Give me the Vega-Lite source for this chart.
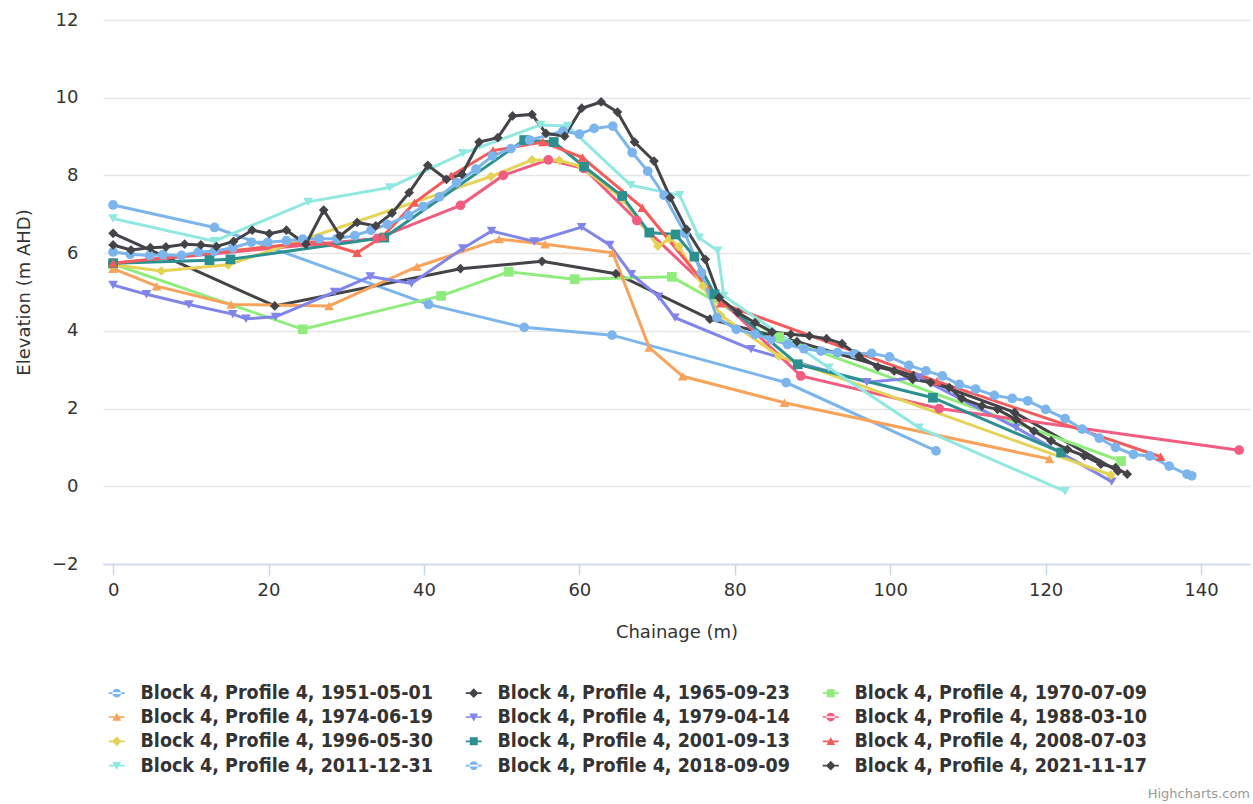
{
  "$schema": "https://vega.github.io/schema/vega-lite/v6.json",
  "width": 1147,
  "height": 544,
  "autosize": {"type": "none"},
  "padding": {"left": 103, "top": 20, "right": 3, "bottom": 240},
  "background": "white",
  "title": {"text": "Highcharts.com", "orient": "bottom", "anchor": "end", "fontSize": 13, "font": "DejaVu Sans", "fontWeight": "normal", "color": "#999999", "offset": 12},
  "config": {
    "view": {"stroke": null},
    "font": "DejaVu Sans"
  },
  "data": {"values": [
    {"s": "Block 4, Profile 4, 1951-05-01", "x": 0, "y": 7.24},
    {"s": "Block 4, Profile 4, 1951-05-01", "x": 13.05, "y": 6.66},
    {"s": "Block 4, Profile 4, 1951-05-01", "x": 40.6, "y": 4.68},
    {"s": "Block 4, Profile 4, 1951-05-01", "x": 52.9, "y": 4.09},
    {"s": "Block 4, Profile 4, 1951-05-01", "x": 64.2, "y": 3.89},
    {"s": "Block 4, Profile 4, 1951-05-01", "x": 86.6, "y": 2.67},
    {"s": "Block 4, Profile 4, 1951-05-01", "x": 105.9, "y": 0.91},

    {"s": "Block 4, Profile 4, 1965-09-23", "x": 0, "y": 6.51},
    {"s": "Block 4, Profile 4, 1965-09-23", "x": 20.8, "y": 4.64},
    {"s": "Block 4, Profile 4, 1965-09-23", "x": 44.7, "y": 5.6},
    {"s": "Block 4, Profile 4, 1965-09-23", "x": 55.2, "y": 5.79},
    {"s": "Block 4, Profile 4, 1965-09-23", "x": 64.7, "y": 5.47},
    {"s": "Block 4, Profile 4, 1965-09-23", "x": 76.8, "y": 4.3},
    {"s": "Block 4, Profile 4, 1965-09-23", "x": 88, "y": 3.72},
    {"s": "Block 4, Profile 4, 1965-09-23", "x": 103, "y": 2.85},
    {"s": "Block 4, Profile 4, 1965-09-23", "x": 116, "y": 1.9},
    {"s": "Block 4, Profile 4, 1965-09-23", "x": 129.3, "y": 0.39},

    {"s": "Block 4, Profile 4, 1970-07-09", "x": 0, "y": 5.72},
    {"s": "Block 4, Profile 4, 1970-07-09", "x": 24.4, "y": 4.04},
    {"s": "Block 4, Profile 4, 1970-07-09", "x": 42.2, "y": 4.9},
    {"s": "Block 4, Profile 4, 1970-07-09", "x": 50.9, "y": 5.52},
    {"s": "Block 4, Profile 4, 1970-07-09", "x": 59.4, "y": 5.33},
    {"s": "Block 4, Profile 4, 1970-07-09", "x": 71.9, "y": 5.39},
    {"s": "Block 4, Profile 4, 1970-07-09", "x": 85.7, "y": 3.84},
    {"s": "Block 4, Profile 4, 1970-07-09", "x": 129.7, "y": 0.65},

    {"s": "Block 4, Profile 4, 1974-06-19", "x": 0, "y": 5.6},
    {"s": "Block 4, Profile 4, 1974-06-19", "x": 5.6, "y": 5.15},
    {"s": "Block 4, Profile 4, 1974-06-19", "x": 15.2, "y": 4.68},
    {"s": "Block 4, Profile 4, 1974-06-19", "x": 27.8, "y": 4.64},
    {"s": "Block 4, Profile 4, 1974-06-19", "x": 39.1, "y": 5.65},
    {"s": "Block 4, Profile 4, 1974-06-19", "x": 49.7, "y": 6.36},
    {"s": "Block 4, Profile 4, 1974-06-19", "x": 55.6, "y": 6.23},
    {"s": "Block 4, Profile 4, 1974-06-19", "x": 64.3, "y": 6.01},
    {"s": "Block 4, Profile 4, 1974-06-19", "x": 69.0, "y": 3.57},
    {"s": "Block 4, Profile 4, 1974-06-19", "x": 73.3, "y": 2.83},
    {"s": "Block 4, Profile 4, 1974-06-19", "x": 86.4, "y": 2.15},
    {"s": "Block 4, Profile 4, 1974-06-19", "x": 120.5, "y": 0.7},

    {"s": "Block 4, Profile 4, 1979-04-14", "x": 0, "y": 5.18},
    {"s": "Block 4, Profile 4, 1979-04-14", "x": 4.3, "y": 4.94},
    {"s": "Block 4, Profile 4, 1979-04-14", "x": 9.75, "y": 4.68},
    {"s": "Block 4, Profile 4, 1979-04-14", "x": 15.4, "y": 4.43},
    {"s": "Block 4, Profile 4, 1979-04-14", "x": 17.1, "y": 4.31},
    {"s": "Block 4, Profile 4, 1979-04-14", "x": 20.9, "y": 4.36},
    {"s": "Block 4, Profile 4, 1979-04-14", "x": 28.5, "y": 5.0},
    {"s": "Block 4, Profile 4, 1979-04-14", "x": 33.1, "y": 5.4},
    {"s": "Block 4, Profile 4, 1979-04-14", "x": 38.4, "y": 5.22},
    {"s": "Block 4, Profile 4, 1979-04-14", "x": 45.0, "y": 6.12},
    {"s": "Block 4, Profile 4, 1979-04-14", "x": 48.7, "y": 6.57},
    {"s": "Block 4, Profile 4, 1979-04-14", "x": 54.2, "y": 6.3},
    {"s": "Block 4, Profile 4, 1979-04-14", "x": 60.3, "y": 6.67},
    {"s": "Block 4, Profile 4, 1979-04-14", "x": 63.9, "y": 6.21},
    {"s": "Block 4, Profile 4, 1979-04-14", "x": 66.7, "y": 5.46},
    {"s": "Block 4, Profile 4, 1979-04-14", "x": 70.2, "y": 4.88},
    {"s": "Block 4, Profile 4, 1979-04-14", "x": 72.3, "y": 4.34},
    {"s": "Block 4, Profile 4, 1979-04-14", "x": 82.1, "y": 3.53},
    {"s": "Block 4, Profile 4, 1979-04-14", "x": 97, "y": 2.68},
    {"s": "Block 4, Profile 4, 1979-04-14", "x": 103.7, "y": 2.8},
    {"s": "Block 4, Profile 4, 1979-04-14", "x": 116.2, "y": 1.51},
    {"s": "Block 4, Profile 4, 1979-04-14", "x": 128.5, "y": 0.12},

    {"s": "Block 4, Profile 4, 1988-03-10", "x": 0, "y": 5.74},
    {"s": "Block 4, Profile 4, 1988-03-10", "x": 34, "y": 6.38},
    {"s": "Block 4, Profile 4, 1988-03-10", "x": 44.7, "y": 7.23},
    {"s": "Block 4, Profile 4, 1988-03-10", "x": 50.2, "y": 8.0},
    {"s": "Block 4, Profile 4, 1988-03-10", "x": 56.0, "y": 8.4},
    {"s": "Block 4, Profile 4, 1988-03-10", "x": 60.6, "y": 8.18},
    {"s": "Block 4, Profile 4, 1988-03-10", "x": 67.4, "y": 6.84},
    {"s": "Block 4, Profile 4, 1988-03-10", "x": 88.5, "y": 2.84},
    {"s": "Block 4, Profile 4, 1988-03-10", "x": 106.3, "y": 2.0},
    {"s": "Block 4, Profile 4, 1988-03-10", "x": 144.9, "y": 0.93},

    {"s": "Block 4, Profile 4, 1996-05-30", "x": 0, "y": 5.7},
    {"s": "Block 4, Profile 4, 1996-05-30", "x": 6.2, "y": 5.54},
    {"s": "Block 4, Profile 4, 1996-05-30", "x": 14.8, "y": 5.7},
    {"s": "Block 4, Profile 4, 1996-05-30", "x": 48.6, "y": 7.97},
    {"s": "Block 4, Profile 4, 1996-05-30", "x": 53.9, "y": 8.4},
    {"s": "Block 4, Profile 4, 1996-05-30", "x": 57.4, "y": 8.39},
    {"s": "Block 4, Profile 4, 1996-05-30", "x": 60.2, "y": 8.23},
    {"s": "Block 4, Profile 4, 1996-05-30", "x": 65.6, "y": 7.39},
    {"s": "Block 4, Profile 4, 1996-05-30", "x": 70.1, "y": 6.18},
    {"s": "Block 4, Profile 4, 1996-05-30", "x": 71.6, "y": 6.37},
    {"s": "Block 4, Profile 4, 1996-05-30", "x": 72.8, "y": 6.17},
    {"s": "Block 4, Profile 4, 1996-05-30", "x": 75.9, "y": 5.15},
    {"s": "Block 4, Profile 4, 1996-05-30", "x": 78.2, "y": 4.4},
    {"s": "Block 4, Profile 4, 1996-05-30", "x": 85.7, "y": 3.35},
    {"s": "Block 4, Profile 4, 1996-05-30", "x": 128.4, "y": 0.29},

    {"s": "Block 4, Profile 4, 2001-09-13", "x": 0, "y": 5.74},
    {"s": "Block 4, Profile 4, 2001-09-13", "x": 12.4, "y": 5.82},
    {"s": "Block 4, Profile 4, 2001-09-13", "x": 15.1, "y": 5.84},
    {"s": "Block 4, Profile 4, 2001-09-13", "x": 34.9, "y": 6.4},
    {"s": "Block 4, Profile 4, 2001-09-13", "x": 52.9, "y": 8.91},
    {"s": "Block 4, Profile 4, 2001-09-13", "x": 56.7, "y": 8.86},
    {"s": "Block 4, Profile 4, 2001-09-13", "x": 60.6, "y": 8.23},
    {"s": "Block 4, Profile 4, 2001-09-13", "x": 65.5, "y": 7.47},
    {"s": "Block 4, Profile 4, 2001-09-13", "x": 69.0, "y": 6.53},
    {"s": "Block 4, Profile 4, 2001-09-13", "x": 72.4, "y": 6.48},
    {"s": "Block 4, Profile 4, 2001-09-13", "x": 74.8, "y": 5.91},
    {"s": "Block 4, Profile 4, 2001-09-13", "x": 77.4, "y": 4.94},
    {"s": "Block 4, Profile 4, 2001-09-13", "x": 88.1, "y": 3.14},
    {"s": "Block 4, Profile 4, 2001-09-13", "x": 105.5, "y": 2.28},
    {"s": "Block 4, Profile 4, 2001-09-13", "x": 122.0, "y": 0.87},

    {"s": "Block 4, Profile 4, 2008-07-03", "x": 0, "y": 5.74},
    {"s": "Block 4, Profile 4, 2008-07-03", "x": 26.5, "y": 6.3},
    {"s": "Block 4, Profile 4, 2008-07-03", "x": 31.4, "y": 6.01},
    {"s": "Block 4, Profile 4, 2008-07-03", "x": 34.7, "y": 6.43},
    {"s": "Block 4, Profile 4, 2008-07-03", "x": 38.8, "y": 7.3},
    {"s": "Block 4, Profile 4, 2008-07-03", "x": 43.5, "y": 7.99},
    {"s": "Block 4, Profile 4, 2008-07-03", "x": 48.9, "y": 8.64},
    {"s": "Block 4, Profile 4, 2008-07-03", "x": 55.3, "y": 8.86},
    {"s": "Block 4, Profile 4, 2008-07-03", "x": 60.4, "y": 8.46},
    {"s": "Block 4, Profile 4, 2008-07-03", "x": 68.1, "y": 7.17},
    {"s": "Block 4, Profile 4, 2008-07-03", "x": 78.2, "y": 4.71},
    {"s": "Block 4, Profile 4, 2008-07-03", "x": 106, "y": 2.7},
    {"s": "Block 4, Profile 4, 2008-07-03", "x": 134.8, "y": 0.76},

    {"s": "Block 4, Profile 4, 2011-12-31", "x": 0, "y": 6.89},
    {"s": "Block 4, Profile 4, 2011-12-31", "x": 13.05, "y": 6.31},
    {"s": "Block 4, Profile 4, 2011-12-31", "x": 25.1, "y": 7.32},
    {"s": "Block 4, Profile 4, 2011-12-31", "x": 35.6, "y": 7.69},
    {"s": "Block 4, Profile 4, 2011-12-31", "x": 45.0, "y": 8.57},
    {"s": "Block 4, Profile 4, 2011-12-31", "x": 55.0, "y": 9.3},
    {"s": "Block 4, Profile 4, 2011-12-31", "x": 58.5, "y": 9.27},
    {"s": "Block 4, Profile 4, 2011-12-31", "x": 66.6, "y": 7.75},
    {"s": "Block 4, Profile 4, 2011-12-31", "x": 72.9, "y": 7.49},
    {"s": "Block 4, Profile 4, 2011-12-31", "x": 75.4, "y": 6.4},
    {"s": "Block 4, Profile 4, 2011-12-31", "x": 77.8, "y": 6.06},
    {"s": "Block 4, Profile 4, 2011-12-31", "x": 78.6, "y": 4.9},
    {"s": "Block 4, Profile 4, 2011-12-31", "x": 92.1, "y": 3.05},
    {"s": "Block 4, Profile 4, 2011-12-31", "x": 103.7, "y": 1.51},
    {"s": "Block 4, Profile 4, 2011-12-31", "x": 122.5, "y": -0.13},

    {"s": "Block 4, Profile 4, 2018-09-09", "x": 0, "y": 6.03},
    {"s": "Block 4, Profile 4, 2018-09-09", "x": 2.2, "y": 5.97},
    {"s": "Block 4, Profile 4, 2018-09-09", "x": 4.7, "y": 5.94},
    {"s": "Block 4, Profile 4, 2018-09-09", "x": 6.4, "y": 5.96},
    {"s": "Block 4, Profile 4, 2018-09-09", "x": 8.8, "y": 5.94},
    {"s": "Block 4, Profile 4, 2018-09-09", "x": 11.0, "y": 6.03},
    {"s": "Block 4, Profile 4, 2018-09-09", "x": 13.05, "y": 6.05},
    {"s": "Block 4, Profile 4, 2018-09-09", "x": 15.4, "y": 6.14},
    {"s": "Block 4, Profile 4, 2018-09-09", "x": 17.8, "y": 6.28},
    {"s": "Block 4, Profile 4, 2018-09-09", "x": 19.9, "y": 6.28},
    {"s": "Block 4, Profile 4, 2018-09-09", "x": 22.3, "y": 6.32},
    {"s": "Block 4, Profile 4, 2018-09-09", "x": 24.4, "y": 6.36},
    {"s": "Block 4, Profile 4, 2018-09-09", "x": 26.5, "y": 6.37},
    {"s": "Block 4, Profile 4, 2018-09-09", "x": 28.8, "y": 6.37},
    {"s": "Block 4, Profile 4, 2018-09-09", "x": 31.1, "y": 6.45},
    {"s": "Block 4, Profile 4, 2018-09-09", "x": 33.2, "y": 6.59},
    {"s": "Block 4, Profile 4, 2018-09-09", "x": 35.3, "y": 6.74},
    {"s": "Block 4, Profile 4, 2018-09-09", "x": 38.0, "y": 6.97},
    {"s": "Block 4, Profile 4, 2018-09-09", "x": 39.9, "y": 7.2},
    {"s": "Block 4, Profile 4, 2018-09-09", "x": 42.0, "y": 7.45},
    {"s": "Block 4, Profile 4, 2018-09-09", "x": 44.2, "y": 7.81},
    {"s": "Block 4, Profile 4, 2018-09-09", "x": 46.7, "y": 8.16},
    {"s": "Block 4, Profile 4, 2018-09-09", "x": 48.8, "y": 8.5},
    {"s": "Block 4, Profile 4, 2018-09-09", "x": 51.2, "y": 8.69},
    {"s": "Block 4, Profile 4, 2018-09-09", "x": 53.6, "y": 8.91},
    {"s": "Block 4, Profile 4, 2018-09-09", "x": 57.9, "y": 9.14},
    {"s": "Block 4, Profile 4, 2018-09-09", "x": 60.0, "y": 9.06},
    {"s": "Block 4, Profile 4, 2018-09-09", "x": 61.9, "y": 9.21},
    {"s": "Block 4, Profile 4, 2018-09-09", "x": 64.3, "y": 9.27},
    {"s": "Block 4, Profile 4, 2018-09-09", "x": 66.8, "y": 8.59},
    {"s": "Block 4, Profile 4, 2018-09-09", "x": 68.8, "y": 8.11},
    {"s": "Block 4, Profile 4, 2018-09-09", "x": 70.9, "y": 7.49},
    {"s": "Block 4, Profile 4, 2018-09-09", "x": 73.6, "y": 6.51},
    {"s": "Block 4, Profile 4, 2018-09-09", "x": 75.7, "y": 5.5},
    {"s": "Block 4, Profile 4, 2018-09-09", "x": 77.7, "y": 4.34},
    {"s": "Block 4, Profile 4, 2018-09-09", "x": 80.2, "y": 4.04},
    {"s": "Block 4, Profile 4, 2018-09-09", "x": 82.6, "y": 3.91},
    {"s": "Block 4, Profile 4, 2018-09-09", "x": 84.7, "y": 3.78},
    {"s": "Block 4, Profile 4, 2018-09-09", "x": 86.8, "y": 3.65},
    {"s": "Block 4, Profile 4, 2018-09-09", "x": 88.9, "y": 3.54},
    {"s": "Block 4, Profile 4, 2018-09-09", "x": 91.1, "y": 3.48},
    {"s": "Block 4, Profile 4, 2018-09-09", "x": 93.2, "y": 3.44},
    {"s": "Block 4, Profile 4, 2018-09-09", "x": 95.4, "y": 3.41},
    {"s": "Block 4, Profile 4, 2018-09-09", "x": 97.6, "y": 3.42},
    {"s": "Block 4, Profile 4, 2018-09-09", "x": 99.9, "y": 3.33},
    {"s": "Block 4, Profile 4, 2018-09-09", "x": 102.4, "y": 3.11},
    {"s": "Block 4, Profile 4, 2018-09-09", "x": 104.6, "y": 2.97},
    {"s": "Block 4, Profile 4, 2018-09-09", "x": 106.7, "y": 2.84},
    {"s": "Block 4, Profile 4, 2018-09-09", "x": 108.9, "y": 2.62},
    {"s": "Block 4, Profile 4, 2018-09-09", "x": 111.0, "y": 2.5},
    {"s": "Block 4, Profile 4, 2018-09-09", "x": 113.4, "y": 2.34},
    {"s": "Block 4, Profile 4, 2018-09-09", "x": 115.7, "y": 2.26},
    {"s": "Block 4, Profile 4, 2018-09-09", "x": 117.7, "y": 2.2},
    {"s": "Block 4, Profile 4, 2018-09-09", "x": 120.0, "y": 1.98},
    {"s": "Block 4, Profile 4, 2018-09-09", "x": 122.5, "y": 1.74},
    {"s": "Block 4, Profile 4, 2018-09-09", "x": 124.7, "y": 1.47},
    {"s": "Block 4, Profile 4, 2018-09-09", "x": 126.9, "y": 1.24},
    {"s": "Block 4, Profile 4, 2018-09-09", "x": 129.0, "y": 1.0},
    {"s": "Block 4, Profile 4, 2018-09-09", "x": 131.3, "y": 0.82},
    {"s": "Block 4, Profile 4, 2018-09-09", "x": 133.4, "y": 0.78},
    {"s": "Block 4, Profile 4, 2018-09-09", "x": 135.9, "y": 0.52},
    {"s": "Block 4, Profile 4, 2018-09-09", "x": 138.2, "y": 0.31},
    {"s": "Block 4, Profile 4, 2018-09-09", "x": 138.8, "y": 0.27},

    {"s": "Block 4, Profile 4, 2021-11-17", "x": 0, "y": 6.21},
    {"s": "Block 4, Profile 4, 2021-11-17", "x": 2.3, "y": 6.08},
    {"s": "Block 4, Profile 4, 2021-11-17", "x": 4.8, "y": 6.14},
    {"s": "Block 4, Profile 4, 2021-11-17", "x": 6.8, "y": 6.16},
    {"s": "Block 4, Profile 4, 2021-11-17", "x": 9.2, "y": 6.23},
    {"s": "Block 4, Profile 4, 2021-11-17", "x": 11.3, "y": 6.21},
    {"s": "Block 4, Profile 4, 2021-11-17", "x": 13.3, "y": 6.17},
    {"s": "Block 4, Profile 4, 2021-11-17", "x": 15.5, "y": 6.3},
    {"s": "Block 4, Profile 4, 2021-11-17", "x": 17.9, "y": 6.59},
    {"s": "Block 4, Profile 4, 2021-11-17", "x": 20.1, "y": 6.5},
    {"s": "Block 4, Profile 4, 2021-11-17", "x": 22.3, "y": 6.59},
    {"s": "Block 4, Profile 4, 2021-11-17", "x": 24.8, "y": 6.23},
    {"s": "Block 4, Profile 4, 2021-11-17", "x": 27.1, "y": 7.11},
    {"s": "Block 4, Profile 4, 2021-11-17", "x": 29.2, "y": 6.44},
    {"s": "Block 4, Profile 4, 2021-11-17", "x": 31.4, "y": 6.79},
    {"s": "Block 4, Profile 4, 2021-11-17", "x": 33.8, "y": 6.7},
    {"s": "Block 4, Profile 4, 2021-11-17", "x": 35.9, "y": 7.03},
    {"s": "Block 4, Profile 4, 2021-11-17", "x": 38.1, "y": 7.56},
    {"s": "Block 4, Profile 4, 2021-11-17", "x": 40.5, "y": 8.26},
    {"s": "Block 4, Profile 4, 2021-11-17", "x": 42.9, "y": 7.9},
    {"s": "Block 4, Profile 4, 2021-11-17", "x": 44.9, "y": 8.03},
    {"s": "Block 4, Profile 4, 2021-11-17", "x": 47.1, "y": 8.86},
    {"s": "Block 4, Profile 4, 2021-11-17", "x": 49.5, "y": 8.97},
    {"s": "Block 4, Profile 4, 2021-11-17", "x": 51.4, "y": 9.53},
    {"s": "Block 4, Profile 4, 2021-11-17", "x": 53.9, "y": 9.57},
    {"s": "Block 4, Profile 4, 2021-11-17", "x": 55.7, "y": 9.08},
    {"s": "Block 4, Profile 4, 2021-11-17", "x": 58.1, "y": 9.01},
    {"s": "Block 4, Profile 4, 2021-11-17", "x": 60.3, "y": 9.73},
    {"s": "Block 4, Profile 4, 2021-11-17", "x": 62.8, "y": 9.89},
    {"s": "Block 4, Profile 4, 2021-11-17", "x": 64.9, "y": 9.63},
    {"s": "Block 4, Profile 4, 2021-11-17", "x": 67.1, "y": 8.86},
    {"s": "Block 4, Profile 4, 2021-11-17", "x": 69.6, "y": 8.37},
    {"s": "Block 4, Profile 4, 2021-11-17", "x": 71.7, "y": 7.43},
    {"s": "Block 4, Profile 4, 2021-11-17", "x": 73.8, "y": 6.61},
    {"s": "Block 4, Profile 4, 2021-11-17", "x": 76.2, "y": 5.84},
    {"s": "Block 4, Profile 4, 2021-11-17", "x": 78.0, "y": 4.86},
    {"s": "Block 4, Profile 4, 2021-11-17", "x": 80.4, "y": 4.47},
    {"s": "Block 4, Profile 4, 2021-11-17", "x": 82.6, "y": 4.21},
    {"s": "Block 4, Profile 4, 2021-11-17", "x": 84.8, "y": 3.97},
    {"s": "Block 4, Profile 4, 2021-11-17", "x": 87.2, "y": 3.91},
    {"s": "Block 4, Profile 4, 2021-11-17", "x": 89.6, "y": 3.87},
    {"s": "Block 4, Profile 4, 2021-11-17", "x": 91.8, "y": 3.8},
    {"s": "Block 4, Profile 4, 2021-11-17", "x": 93.8, "y": 3.67},
    {"s": "Block 4, Profile 4, 2021-11-17", "x": 96.0, "y": 3.35},
    {"s": "Block 4, Profile 4, 2021-11-17", "x": 98.4, "y": 3.07},
    {"s": "Block 4, Profile 4, 2021-11-17", "x": 100.5, "y": 2.97},
    {"s": "Block 4, Profile 4, 2021-11-17", "x": 102.9, "y": 2.75},
    {"s": "Block 4, Profile 4, 2021-11-17", "x": 105.2, "y": 2.67},
    {"s": "Block 4, Profile 4, 2021-11-17", "x": 107.6, "y": 2.54},
    {"s": "Block 4, Profile 4, 2021-11-17", "x": 109.2, "y": 2.26},
    {"s": "Block 4, Profile 4, 2021-11-17", "x": 111.8, "y": 2.07},
    {"s": "Block 4, Profile 4, 2021-11-17", "x": 113.8, "y": 1.98},
    {"s": "Block 4, Profile 4, 2021-11-17", "x": 116.2, "y": 1.72},
    {"s": "Block 4, Profile 4, 2021-11-17", "x": 118.5, "y": 1.42},
    {"s": "Block 4, Profile 4, 2021-11-17", "x": 120.7, "y": 1.17},
    {"s": "Block 4, Profile 4, 2021-11-17", "x": 122.8, "y": 0.95},
    {"s": "Block 4, Profile 4, 2021-11-17", "x": 125.0, "y": 0.78},
    {"s": "Block 4, Profile 4, 2021-11-17", "x": 127.1, "y": 0.57},
    {"s": "Block 4, Profile 4, 2021-11-17", "x": 129.0, "y": 0.48},
    {"s": "Block 4, Profile 4, 2021-11-17", "x": 130.5, "y": 0.31}
  ]},
  "encoding": {
    "x": {
      "field": "x", "type": "quantitative",
      "scale": {"domain": [-1.3, 146.3], "nice": false, "zero": false},
      "axis": {
        "title": "Chainage (m)", "values": [0, 20, 40, 60, 80, 100, 120, 140],
        "grid": false, "domainColor": "#ccd6eb", "domainWidth": 1.5, "tickColor": "#ccd6eb", "tickWidth": 1.5, "tickSize": 11,
        "labelFontSize": 18, "labelColor": "#333333", "labelPadding": 6, "labelFont": "DejaVu Sans",
        "titleFontSize": 18, "titleFontWeight": "normal", "titleColor": "#333333", "titlePadding": 24, "titleFont": "DejaVu Sans"
      }
    },
    "y": {
      "field": "y", "type": "quantitative",
      "scale": {"domain": [-2, 12], "nice": false, "zero": false},
      "axis": {
        "title": "Elevation (m AHD)", "values": [-2, 0, 2, 4, 6, 8, 10, 12],
        "domain": false, "ticks": false, "gridColor": "#e6e6e6", "gridWidth": 1.5,
        "labelFontSize": 18, "labelColor": "#333333", "labelPadding": 25, "labelFont": "DejaVu Sans",
        "titleFontSize": 18, "titleFontWeight": "normal", "titleColor": "#333333", "titlePadding": 18, "titleFont": "DejaVu Sans"
      }
    },
    "color": {
      "field": "s", "type": "nominal",
      "scale": {"range": ["#7cb5ec", "#434348", "#90ed7d", "#f7a35c", "#8085e9", "#f15c80", "#e4d354", "#2b908f", "#f45b5b", "#91e8e1", "#7cb5ec", "#434348"]},
      "legend": {
        "title": null, "orient": "none", "legendX": 4, "legendY": 663, "columns": 3, "direction": "horizontal",
        "columnPadding": 31, "rowPadding": 3.3, "padding": 0,
        "symbolSize": 256, "labelOffset": 14, "labelFontSize": 19.5, "labelFont": "DejaVu Sans Condensed", "labelFontWeight": "bold", "labelColor": "#333333", "labelLimit": 400,
        "encode": {
          "symbols": {"update": {
            "shape": {"signal": "['M-1,-0.1H1V0.1H-1Z M-0.55,0A0.55,0.55 0 1,0 0.55,0A0.55,0.55 0 1,0 -0.55,0Z', 'M-1,-0.1H1V0.1H-1Z M0,-0.6L0.6,0L0,0.6L-0.6,0Z', 'M-1,-0.1H1V0.1H-1Z M-0.5,-0.5H0.5V0.5H-0.5Z', 'M-1,-0.1H1V0.1H-1Z M0,-0.55L0.55,0.45H-0.55Z', 'M-1,-0.1H1V0.1H-1Z M-0.55,-0.45H0.55L0,0.55Z'][datum.index % 5]"},
            "fill": {"scale": "color", "field": "value"},
            "stroke": {"value": "transparent"},
            "strokeWidth": {"value": 0},
            "opacity": {"value": 1}
          }}
        }
      }
    }
  },
  "layer": [
    {"mark": {"type": "line", "strokeWidth": 3, "clip": true}},
    {
      "mark": {"type": "point", "filled": true, "opacity": 1, "size": 95},
      "encoding": {
        "shape": {
          "field": "s", "type": "nominal",
          "scale": {"range": ["circle", "diamond", "square", "triangle-up", "triangle-down", "circle", "diamond", "square", "triangle-up", "triangle-down", "circle", "diamond"]},
          "legend": null
        }
      }
    }
  ]
}
